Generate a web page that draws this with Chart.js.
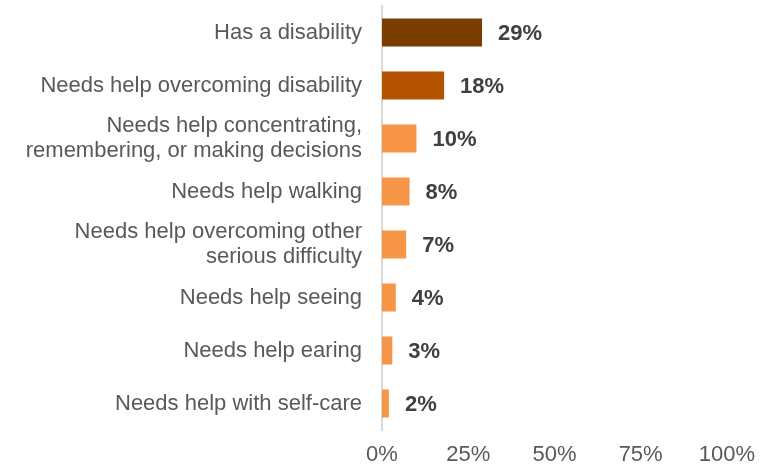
<!DOCTYPE html>
<html>
<head>
<meta charset="utf-8">
<script src="https://cdn.jsdelivr.net/npm/chart.js@4"></script>
<style>
  html, body { margin: 0; padding: 0; background: #fff; }
  #wrap { width: 767px; height: 467px; }
</style>
</head>
<body>
<div id="wrap"><canvas id="chart"></canvas></div>
<script>
const categories = [
  'Has a disability',
  'Needs help overcoming disability',
  ['Needs help concentrating,', 'remembering, or making decisions'],
  'Needs help walking',
  ['Needs help overcoming other', 'serious difficulty'],
  'Needs help seeing',
  'Needs help earing',
  'Needs help with self-care'
];
const percentages = [29, 18, 10, 8, 7, 4, 3, 2];
const barColors = ['#7B3C00', '#B35300', '#F79646', '#F79646', '#F79646', '#F79646', '#F79646', '#F79646'];
const tickValues = [0, 25, 50, 75, 100];

// draws the bold value next to each bar
const valueLabels = {
  id: 'valueLabels',
  afterDatasetsDraw(chart) {
    const ctx = chart.ctx;
    const meta = chart.getDatasetMeta(0);
    ctx.save();
    ctx.font = 'bold 22px "Liberation Sans", Arial, sans-serif';
    ctx.fillStyle = '#404040';
    ctx.textAlign = 'left';
    ctx.textBaseline = 'middle';
    meta.data.forEach((bar, i) => {
      ctx.fillText(percentages[i] + '%', bar.x + 16, bar.y + 1);
    });
    ctx.restore();
  }
};

new Chart(document.getElementById('chart'), {
  type: 'bar',
  data: {
    labels: categories,
    datasets: [{
      data: percentages,
      backgroundColor: barColors,
      barPercentage: 0.53,
      categoryPercentage: 1.0
    }]
  },
  options: {
    indexAxis: 'y',
    responsive: true,
    maintainAspectRatio: false,
    animation: false,
    layout: { padding: { top: 6, right: 0, bottom: 0, left: 0 } },
    plugins: {
      legend: { display: false },
      tooltip: { enabled: false }
    },
    scales: {
      x: {
        min: 0,
        max: 100,
        afterBuildTicks(axis) {
          axis.ticks = tickValues.map(v => ({ value: v }));
        },
        afterFit(axis) { axis.height = 37; },
        grid: { display: false, drawTicks: false },
        border: { display: false },
        ticks: {
          padding: 12,
          color: '#595959',
          font: { family: '"Liberation Sans", Arial, sans-serif', size: 22 },
          callback: v => v + '%'
        }
      },
      y: {
        afterFit(axis) {
          axis.width = 382;
          axis.paddingTop = 0;
          axis.paddingBottom = 0;
        },
        grid: { display: false, drawTicks: false },
        border: { display: true, color: '#D9D9D9', width: 2 },
        ticks: {
          autoSkip: false,
          padding: 20,
          color: '#595959',
          font: { family: '"Liberation Sans", Arial, sans-serif', size: 22, lineHeight: 1.14 }
        }
      }
    }
  },
  plugins: [valueLabels]
});
</script>
</body>
</html>
